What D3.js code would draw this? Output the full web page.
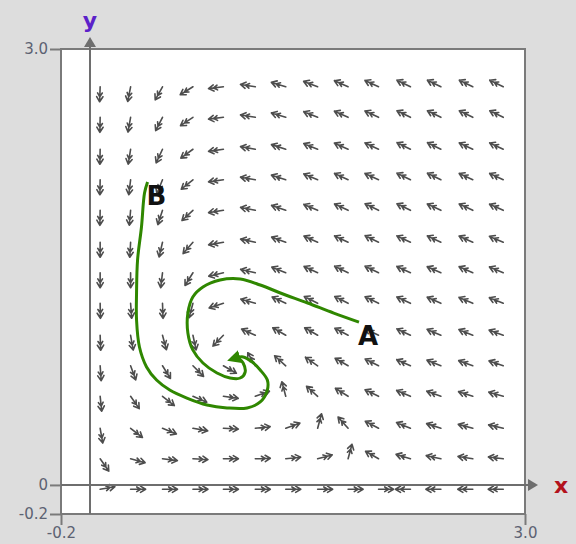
<!DOCTYPE html>
<html>
<head>
<meta charset="utf-8">
<script src="https://cdn.jsdelivr.net/npm/d3@7"></script>
<style>
    body { margin: 0; background: #dddddd; }
    svg { display: block; }
</style>
</head>
<body>
<div id="graphContainer"></div>
<script>
//grid points of the direction field (data units)
var xGrid = [0.07, 0.28, 0.50, 0.71, 0.92, 1.14, 1.35, 1.57, 1.78, 1.99, 2.21, 2.42, 2.64, 2.85];
var yGrid = [-0.03, 0.18, 0.39, 0.61, 0.82, 1.03, 1.25, 1.46, 1.67, 1.89, 2.10, 2.31, 2.53, 2.74];

//direction of every arrow in degrees (counter clockwise from +x), bottom row first
var fieldAngles = [
    [10, 0, 0, 0, 0, 0, 0, 0, 0, 0, 180, 180, 180, 180],
    [-55, -15, -7, -3, 0, 2, 6, 15, 75, 150, 163, 168, 171, 173],
    [-80, -38, -22, -10, -3, 6, 20, 75, 132, 152, 158, 162, 165, 167],
    [-84, -55, -38, -23, -8, 20, 105, 138, 148, 154, 157, 160, 162, 164],
    [-86, -70, -58, -45, -30, 120, 138, 145, 150, 153, 156, 158, 160, 161],
    [-88, -80, -75, -78, -134, 156, 150, 150, 152, 154, 155, 157, 158, 160],
    [-89, -86, -88, -105, -162, 164, 155, 153, 153, 154, 155, 156, 157, 158],
    [-90, -90, -97, -122, -167, 167, 158, 155, 154, 154, 155, 156, 156, 157],
    [-90, -93, -103, -131, -170, 168, 160, 156, 155, 154, 155, 155, 156, 157],
    [-91, -95, -108, -137, -171, 169, 161, 157, 155, 154, 154, 155, 155, 156],
    [-91, -97, -112, -141, -172, 170, 162, 157, 155, 155, 154, 154, 155, 155],
    [-91, -99, -115, -144, -172, 170, 162, 158, 156, 155, 154, 154, 155, 155],
    [-91, -100, -117, -146, -173, 171, 163, 158, 156, 155, 154, 154, 154, 154],
    [-92, -101, -119, -148, -173, 171, 163, 159, 156, 155, 154, 154, 154, 154]
];

//the two solution curves, starting at A and at B
var curveA = [[1.855, 1.121], [1.681, 1.183], [1.501, 1.252], [1.313, 1.321], [1.174, 1.376], [1.036, 1.417],
    [0.897, 1.410], [0.779, 1.362], [0.709, 1.293], [0.675, 1.183], [0.675, 1.046], [0.709, 0.929],
    [0.779, 0.839], [0.876, 0.770], [0.966, 0.736], [1.036, 0.736], [1.070, 0.777], [1.056, 0.839], [1.022, 0.874]];
var curveB = [[0.397, 2.085], [0.376, 2.009], [0.355, 1.775], [0.328, 1.548], [0.321, 1.321], [0.321, 1.135],
    [0.341, 0.949], [0.390, 0.812], [0.459, 0.722], [0.550, 0.653], [0.668, 0.598], [0.807, 0.550],
    [0.945, 0.530], [1.084, 0.530], [1.174, 0.571], [1.223, 0.653], [1.223, 0.722], [1.174, 0.791],
    [1.119, 0.846], [1.056, 0.881], [1.008, 0.874]];

var curveNames = ["A", "B"];
var xTicks = [-0.2, 3.0];
var yTicks = [-0.2, 0, 3.0];

var width = 576,
    height = 544,
    arrowLength = 15,
    green = "#2f8700",
    frameColor = "#7a7a7a";

var svg = d3.select("#graphContainer").append("svg")
    .attr("width", width)
    .attr("height", height)
    .style("font-family", "DejaVu Sans, sans-serif");

var x = d3.scaleLinear().domain([-0.2, 3.0]).range([61, 525]);
var y = d3.scaleLinear().domain([-0.2, 3.0]).range([514, 49]);

//background and white plot area
svg.append("rect").attr("width", width).attr("height", height).attr("fill", "#dddddd");
svg.append("rect")
    .attr("x", x(-0.2)).attr("y", y(3.0))
    .attr("width", x(3.0) - x(-0.2)).attr("height", y(-0.2) - y(3.0))
    .attr("fill", "#ffffff");

//direction field
var cells = [];
yGrid.forEach(function (yv, j) {
    xGrid.forEach(function (xv, k) {
        cells.push({"x": xv, "y": yv, "angle": fieldAngles[j][k]});
    });
});

function arrowPath(d) {
    var a = d.angle * Math.PI / 180,
        x0 = x(d.x), y0 = y(d.y),
        x1 = x0 + arrowLength * Math.cos(a),
        y1 = y0 - arrowLength * Math.sin(a),
        p = "M" + x0 + "," + y0 + "L" + x1 + "," + y1;
    //two pairs of barbs, like the blurry original glyphs
    [[6, 0], [4.5, 5]].forEach(function (b) {
        var bx = x1 - b[1] * Math.cos(a), by = y1 + b[1] * Math.sin(a);
        [0.55, -0.55].forEach(function (s) {
            p += "M" + (bx - b[0] * Math.cos(a + s)) + "," + (by + b[0] * Math.sin(a + s)) + "L" + bx + "," + by;
        });
    });
    return p;
}

svg.append("g").attr("class", "field")
    .selectAll("path")
    .data(cells)
    .enter().append("path")
    .attr("d", arrowPath)
    .attr("fill", "none")
    .attr("stroke", "#4d4d4d")
    .attr("stroke-width", 1.6)
    .attr("stroke-linecap", "round");

//frame
svg.append("rect")
    .attr("x", x(-0.2)).attr("y", y(3.0))
    .attr("width", x(3.0) - x(-0.2)).attr("height", y(-0.2) - y(3.0))
    .attr("fill", "none")
    .attr("stroke", frameColor)
    .attr("stroke-width", 2);

//tick marks and labels
function fmt(d) {
    return d === 0 ? "0" : d.toFixed(1);
}

var leftAxis = svg.append("g")
    .attr("transform", "translate(" + x(-0.2) + ",0)")
    .call(d3.axisLeft(y).tickValues(yTicks).tickFormat(fmt).tickSize(11).tickSizeOuter(0));
var bottomAxis = svg.append("g")
    .attr("transform", "translate(0," + y(-0.2) + ")")
    .call(d3.axisBottom(x).tickValues(xTicks).tickFormat(fmt).tickSize(11).tickSizeOuter(0));

[leftAxis, bottomAxis].forEach(function (ax) {
    ax.select(".domain").remove();
    ax.selectAll("line").attr("stroke", frameColor).attr("stroke-width", 2);
    ax.selectAll("text")
        .attr("fill", "#5c6272")
        .style("font-size", "15px")
        .style("font-family", "DejaVu Sans, sans-serif");
});
leftAxis.selectAll("text").attr("x", -13);
bottomAxis.selectAll("text").attr("y", 13);

//coordinate axes with arrow heads
svg.append("line")
    .attr("x1", x(-0.2)).attr("x2", x(3.0) + 8)
    .attr("y1", y(0)).attr("y2", y(0))
    .attr("stroke", "#6e6e6e").attr("stroke-width", 2);
svg.append("line")
    .attr("x1", x(0)).attr("x2", x(0))
    .attr("y1", y(-0.2)).attr("y2", y(3.0) - 6)
    .attr("stroke", "#6e6e6e").attr("stroke-width", 2);
svg.append("path")
    .attr("d", "M" + (x(3.0) + 3) + "," + (y(0) - 6) + "L" + (x(3.0) + 13) + "," + y(0) + "L" + (x(3.0) + 3) + "," + (y(0) + 6) + "Z")
    .attr("fill", "#6e6e6e");
svg.append("path")
    .attr("d", "M" + (x(0) - 6) + "," + (y(3.0) - 2) + "L" + x(0) + "," + (y(3.0) - 12) + "L" + (x(0) + 6) + "," + (y(3.0) - 2) + "Z")
    .attr("fill", "#6e6e6e");

svg.append("text")
    .attr("x", x(3.0) + 36).attr("y", y(0) + 8)
    .attr("text-anchor", "middle")
    .attr("fill", "#b3121c")
    .style("font-size", "22px").style("font-weight", "bold")
    .text("x");
svg.append("text")
    .attr("x", x(0)).attr("y", 28)
    .attr("text-anchor", "middle")
    .attr("fill", "#5b21c9")
    .style("font-size", "22px").style("font-weight", "bold")
    .text("y");

//solution curves
var line = d3.line()
    .x(function (d) { return x(d[0]); })
    .y(function (d) { return y(d[1]); })
    .curve(d3.curveCatmullRom);

svg.append("defs").append("marker")
    .attr("id", "endHead")
    .attr("viewBox", "0 0 10 10")
    .attr("refX", 3).attr("refY", 5)
    .attr("markerWidth", 4.5).attr("markerHeight", 4.5)
    .attr("markerUnits", "strokeWidth")
    .attr("orient", "auto")
    .append("path")
    .attr("d", "M0,0L10,5L0,10Z")
    .attr("fill", green);

svg.append("g").attr("class", "curves")
    .selectAll("path")
    .data([curveA, curveB])
    .enter().append("path")
    .attr("d", line)
    .attr("fill", "none")
    .attr("stroke", green)
    .attr("stroke-width", 3)
    .attr("stroke-linejoin", "round")
    .attr("marker-end", function (d, i) { return i === 1 ? "url(#endHead)" : null; });

//start labels, placed just below the first point of each curve
svg.append("g")
    .selectAll("text")
    .data([curveA, curveB])
    .enter().append("text")
    .attr("x", function (d) { return x(d[0][0]) - 1; })
    .attr("y", function (d) { return y(d[0][1]) + 23; })
    .attr("fill", "#111111")
    .style("font-size", "26px")
    .style("font-weight", "bold")
    .text(function (d, i) { return curveNames[i]; });
</script>
</body>
</html>
